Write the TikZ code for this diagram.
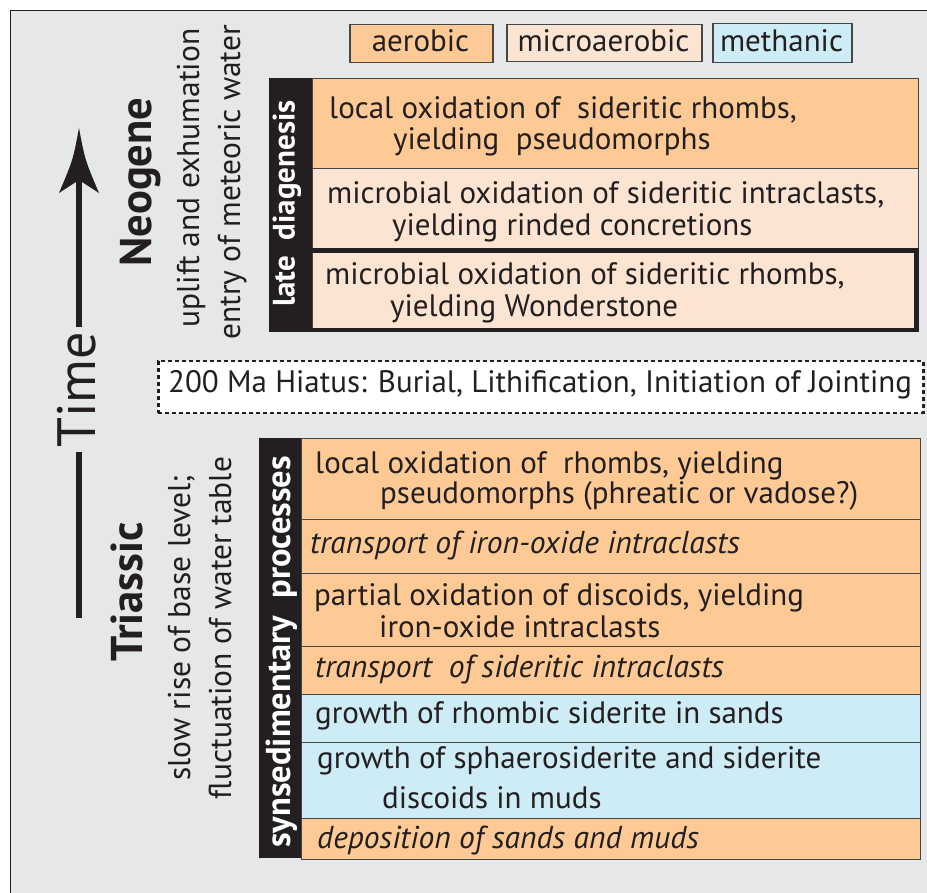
\documentclass[tikz,border=0pt]{standalone}
\usepackage{fontspec}
\setmainfont{PT Sans}
\definecolor{aer}{RGB}{253,202,150}
\definecolor{mic}{RGB}{252,228,210}
\definecolor{met}{RGB}{206,236,245}
\definecolor{bgc}{RGB}{230,231,232}
\definecolor{ink}{RGB}{35,31,32}
\definecolor{edge}{RGB}{70,70,70}
\begin{document}
\begin{tikzpicture}[x=1pt,y=-1pt,
  txt/.style={inner sep=0pt, anchor=base west, text=ink, font=\fontsize{31}{33}\selectfont},
  itxt/.style={txt, font=\fontsize{31.6}{33}\selectfont\itshape},
  ctxt/.style={txt, anchor=base},
  rtxt/.style={inner sep=0pt, anchor=base, rotate=90, text=ink, font=\fontsize{31.5}{33}\selectfont},
  btxt/.style={rtxt, font=\fontsize{44.5}{46}\selectfont\bfseries},
  wtxt/.style={inner sep=0pt, anchor=center, rotate=90, text=white, font=\fontsize{31}{33}\selectfont\bfseries},
  boxc/.style={draw=edge, line width=1.2pt, inner sep=0pt, anchor=north west},
  legbox/.style={draw=edge, line width=1.5pt, inner sep=0pt, anchor=north west},
  bar/.style={fill=ink, draw=none, inner sep=0pt, anchor=north west},
]
\useasboundingbox (0,0) rectangle (927,893);
\fill[white] (0,0) rectangle (927,893);
\fill[bgc] (10,11) rectangle (927,893);
\draw[ink, line width=1pt] (10,893) -- (10,11) -- (927,11);

% legend
\node[legbox, fill=aer, minimum width=143pt, minimum height=38pt] (lga) at (349,24) {};
\node[legbox, fill=mic, minimum width=195pt, minimum height=37pt] (lgm) at (506,24) {};
\node[legbox, fill=met, minimum width=139pt, minimum height=39pt] (lgx) at (712,23) {};
\node[ctxt] (lgat) at (420.5,52) {aerobic};
\node[ctxt] (lgmt) at (603.5,52) {microaerobic};
\node[ctxt] (lgxt) at (781.5,52) {methanic};

% late diagenesis
\node[boxc, fill=aer, minimum width=606pt, minimum height=90pt] (n1) at (312,78) {};
\node[boxc, fill=mic, minimum width=606pt, minimum height=80pt] (n2) at (312,168) {};
\node[boxc, fill=mic, minimum width=606pt, minimum height=82pt] (n3) at (312,248) {};
\draw[ink, line width=4.5pt] (305,250.5) rectangle (916.5,330);
\node[bar, minimum width=43pt, minimum height=254pt] (lbar) at (269,78) {};
\node[wtxt] (lbt) at (287,203.5) {late~ diagenesis};

\node[txt] (n1a) at (329,119) {local oxidation of~ sideritic rhombs,};
\node[txt] (n1b) at (393,150) {yielding~ pseudomorphs};
\node[txt] (n2a) at (327,204) {microbial oxidation of sideritic intraclasts,};
\node[txt] (n2b) at (392,236) {yielding rinded concretions};
\node[txt] (n3a) at (325,285) {microbial oxidation of sideritic rhombs,};
\node[txt] (n3b) at (390,317) {yielding Wonderstone};

% hiatus
\node[draw=ink, fill=white, line width=2.5pt, dash pattern=on 4pt off 3pt, inner sep=0pt,
  minimum width=765pt, minimum height=52pt, anchor=north west] (hia) at (157,360) {};
\node[txt] (hiat) at (168,393) {200 Ma Hiatus: Burial, Lithification, Initiation of Jointing};

% synsedimentary
\node[boxc, fill=aer, minimum width=619pt, minimum height=81pt] (t1) at (301,438) {};
\node[boxc, fill=aer, minimum width=619pt, minimum height=54pt] (t2) at (301,519) {};
\node[boxc, fill=aer, minimum width=619pt, minimum height=73pt] (t3) at (301,573) {};
\node[boxc, fill=aer, minimum width=619pt, minimum height=48pt] (t4) at (301,646) {};
\node[boxc, fill=met, minimum width=619pt, minimum height=48pt] (t5) at (301,694) {};
\node[boxc, fill=met, minimum width=619pt, minimum height=76pt] (t6) at (301,742) {};
\node[boxc, fill=aer, minimum width=619pt, minimum height=41pt] (t7) at (301,818) {};
\node[bar, minimum width=42pt, minimum height=420pt] (sbar) at (259,438) {};
\node[wtxt, font=\fontsize{34.5}{36}\selectfont\bfseries] (sbt) at (281.5,652) {synsedimentary~ processes};

\node[txt] (t1a) at (315,473) {local oxidation of~ rhombs, yielding};
\node[txt] (t1b) at (380,503) {pseudomorphs (phreatic or vadose?)};
\node[itxt] (t2a) at (310,553) {transport of iron-oxide intraclasts};
\node[txt] (t3a) at (314,605) {partial oxidation of discoids, yielding};
\node[txt] (t3b) at (379,637) {iron-oxide intraclasts};
\node[itxt] (t4a) at (315,677) {transport~ of sideritic intraclasts};
\node[txt] (t5a) at (315,723) {growth of rhombic siderite in sands};
\node[txt] (t6a) at (317,768) {growth of sphaerosiderite and siderite};
\node[txt] (t6b) at (382,808) {discoids in muds};
\node[itxt] (t7a) at (317,848) {deposition of sands and muds};

% left labels
\node[btxt] (neo) at (151,182) {Neogene};
\node[rtxt] (upl) at (199,178) {uplift and exhumation};
\node[rtxt] (ent) at (240,182.5) {entry of meteoric water};
\node[btxt] (tri) at (142,592) {Triassic};
\node[rtxt] (slo) at (190,628) {slow rise of base level;};
\node[rtxt] (flu) at (231,628) {fluctuation of water table};
\node[rtxt, font=\fontsize{54}{56}\selectfont] (tim) at (95,390) {Time};

% time arrow
\coordinate (ta) at (79,327);
\coordinate (tb) at (79,178);
\coordinate (tip) at (79,128);
\coordinate (tc) at (79,452);
\coordinate (td) at (79,618);
\draw[ink, line width=6pt] (ta) -- (tb);
\fill[ink] (tip) .. controls (85,160) .. (99,193) -- (79,180) -- (59,193) .. controls (73,160) .. (tip) -- cycle;
\draw[ink, line width=6pt] (tc) -- (td);
\end{tikzpicture}
\end{document}
